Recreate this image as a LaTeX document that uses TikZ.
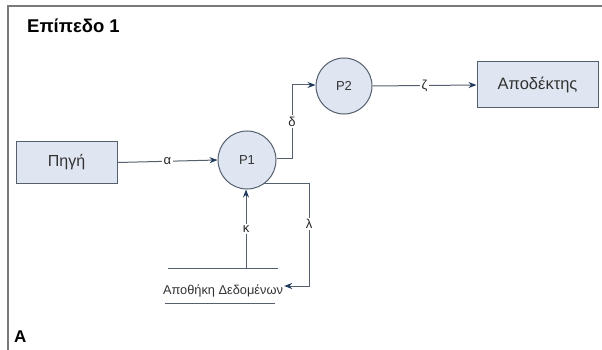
\documentclass[tikz,border=0pt]{standalone}
\usepackage{fontspec}
\setmainfont{Liberation Sans}
\usetikzlibrary{arrows.meta}
\definecolor{boxfill}{HTML}{DFE5F1}
\definecolor{edge}{HTML}{55606E}
\definecolor{tip}{HTML}{1F3A5C}
\definecolor{frame}{HTML}{7A7A7A}
\begin{document}
\begin{tikzpicture}[x=1pt,y=-1pt,
  ent/.style={draw=edge,fill=boxfill,line width=1pt,minimum height=42pt,inner sep=0pt,font=\fontsize{16}{18}\selectfont,text=black!80},
  proc/.style={circle,draw=edge,fill=boxfill,line width=1pt,minimum size=56pt,inner sep=0pt,font=\fontsize{13}{15}\selectfont,text=black!80},
  flow/.style={draw=edge,line width=1pt,-{Stealth[length=8pt,width=6pt,color=tip]}},
  lbl/.style={fill=white,inner sep=1.5pt,font=\fontsize{13}{15}\selectfont,text=black!85},
  line/.style={draw=edge,line width=1pt}]
\useasboundingbox (0,0) rectangle (602,350);
% partial frame
\draw[frame,line width=1.5pt] (8,350) -- (8,6) -- (602,6);
\node[anchor=west,font=\bfseries\fontsize{18.5}{20}\selectfont,inner sep=0pt] (title) at (27,26) {Επίπεδο 1};
\node[anchor=west,font=\bfseries\fontsize{17}{19}\selectfont,inner sep=0pt] (corner) at (14,337) {A};
% entities and processes
\node[ent,minimum width=101pt] (src) at (66.5,162.5) {Πηγή};
\node[ent,minimum width=121pt,minimum height=46pt,font=\fontsize{16.5}{18}\selectfont] (dst) at (537.5,85) {Αποδέκτης};
\node[proc,minimum size=58pt] (p1) at (247,160) {P1};
\node[proc,minimum size=56pt] (p2) at (344,86) {P2};
% data store
\coordinate (st1) at (168,268);
\coordinate (st2) at (278,268);
\coordinate (sb1) at (165,303);
\coordinate (sb2) at (275,303);
\draw[line] (st1) -- (st2);
\draw[line] (sb1) -- (sb2);
\node[font=\fontsize{12.8}{14}\selectfont,text=black!80,inner sep=1pt] (store) at (223,291) {Αποθήκη Δεδομένων};
% flows
\draw[flow] (src.east) -- node[lbl] {α} (p1.west);
\draw[flow] (p2.east) -- node[lbl] {ζ} (dst.west);
\coordinate (dA) at (292,158);
\coordinate (dB) at (292,85);
\draw[flow] (p1.east |- dA) -- (dA) -- node[lbl,pos=0.5] {δ} (dB) -- (p2.west |- dB);
\coordinate (kB) at (246,268);
\draw[flow] (kB) -- node[lbl,pos=0.5] {κ} (p1.south -| kB);
\coordinate (lA) at (263,183);
\coordinate (lB) at (309,183);
\coordinate (lC) at (309,286);
\draw[flow] (lA) -- (lB) -- node[lbl,pos=0.4] {λ} (lC) -- (store.east |- lC);
\end{tikzpicture}
\end{document}
